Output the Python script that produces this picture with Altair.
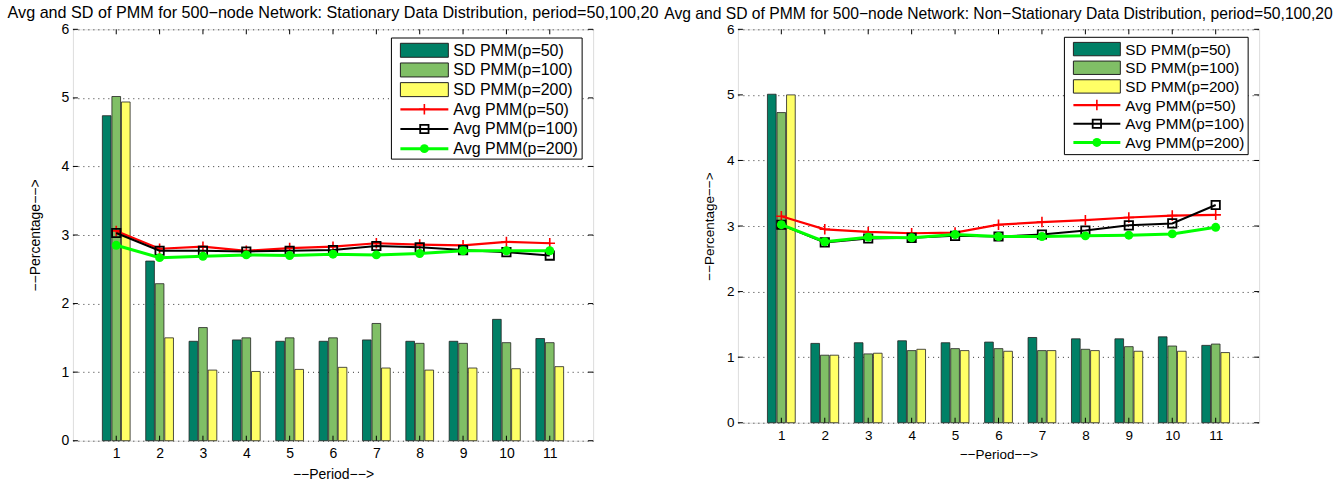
import altair as alt
import pandas as pd

# ---------------- data ----------------
periods = list(range(1, 12))
sd_names = ["SD PMM(p=50)", "SD PMM(p=100)", "SD PMM(p=200)"]
avg_names = ["Avg PMM(p=50)", "Avg PMM(p=100)", "Avg PMM(p=200)"]
x_ticks = list(range(1, 12))
y_ticks = list(range(0, 7))

left_title = "Avg and SD of PMM for 500\u2212node Network: Stationary Data Distribution, period=50,100,20"
right_title = "Avg and SD of PMM for 500\u2212node Network: Non\u2212Stationary Data Distribution, period=50,100,20"

left_sd50 = [4.74, 2.62, 1.45, 1.47, 1.45, 1.45, 1.47, 1.45, 1.45, 1.77, 1.49]
left_sd100 = [5.02, 2.29, 1.65, 1.50, 1.50, 1.50, 1.71, 1.42, 1.42, 1.43, 1.43]
left_sd200 = [4.94, 1.50, 1.03, 1.01, 1.04, 1.07, 1.06, 1.03, 1.06, 1.05, 1.08]
left_avg50 = [3.06, 2.80, 2.83, 2.77, 2.81, 2.83, 2.88, 2.86, 2.85, 2.90, 2.88]
left_avg100 = [3.03, 2.77, 2.77, 2.76, 2.77, 2.78, 2.84, 2.82, 2.78, 2.75, 2.70]
left_avg200 = [2.85, 2.67, 2.69, 2.71, 2.70, 2.72, 2.71, 2.73, 2.77, 2.77, 2.77]

right_sd50 = [5.01, 1.21, 1.22, 1.25, 1.22, 1.23, 1.30, 1.28, 1.28, 1.31, 1.18]
right_sd100 = [4.73, 1.03, 1.05, 1.10, 1.13, 1.13, 1.10, 1.12, 1.16, 1.17, 1.20]
right_sd200 = [5.00, 1.03, 1.06, 1.12, 1.10, 1.09, 1.10, 1.10, 1.09, 1.09, 1.07]
right_avg50 = [3.15, 2.95, 2.91, 2.89, 2.90, 3.02, 3.06, 3.09, 3.13, 3.16, 3.17]
right_avg100 = [3.02, 2.75, 2.81, 2.82, 2.85, 2.84, 2.87, 2.93, 3.01, 3.04, 3.32]
right_avg200 = [3.02, 2.76, 2.83, 2.82, 2.87, 2.84, 2.84, 2.85, 2.86, 2.88, 2.98]

# ---------------- style ----------------
FONT = "Liberation Sans"
bar_colors = ["#008066", "#80BF66", "#FFFF66"]
line_colors = ["#FF0000", "#000000", "#00FF00"]
line_widths = [2.2, 2, 3]
bar_offsets = [-0.22, 0.0, 0.22]
BAR_HALF = 0.1
CROSS = "M-1,0L1,0M0,-1L0,1"
marker_specs = [
    dict(shape=CROSS, filled=False, size=110, strokeWidth=1.6),
    dict(shape="square", filled=False, size=70, strokeWidth=1.8),
    dict(shape="circle", filled=True, size=80, strokeWidth=0),
]


def make_panel(title, sds, avgs, W, H, fs_tick, fs_title, fs_leg, leg, xlab_y, ylab_x,
               title_y, corners):
    xs = alt.Scale(domain=[0, 12], nice=False, zero=False)
    ys = alt.Scale(domain=[0, 6], nice=False)
    xaxis = alt.Axis(values=x_ticks, grid=False, ticks=False, tickSize=0, domain=False,
                     labelFontSize=fs_tick, labelPadding=6, labelFont=FONT, labelColor="black",
                     title="\u2212\u2212Period\u2212\u2212>", titleFont=FONT, titleFontSize=fs_tick,
                     titleFontWeight="normal", titleColor="black", titleY=xlab_y,
                     titleBaseline="middle")
    yaxis = alt.Axis(values=y_ticks, grid=True, gridDash=[1, 4], gridColor="#333", gridWidth=1,
                     ticks=False, tickSize=0, domain=False,
                     labelFontSize=fs_tick, labelPadding=4, labelFont=FONT, labelColor="black",
                     title="\u2212\u2212Percentage\u2212\u2212>", titleFont=FONT, titleFontSize=fs_tick,
                     titleFontWeight="normal", titleColor="black", titleX=ylab_x, titleY=H / 2,
                     titleBaseline="middle", titleAlign="center", titleAngle=270)

    rows = []
    for k, (name, vals) in enumerate(zip(sd_names, sds)):
        for p, v in zip(periods, vals):
            rows.append({"period": p, "series": name, "value": v, "off": bar_offsets[k]})
    bar_df = pd.DataFrame(rows)

    bars = alt.Chart(bar_df).transform_calculate(
        x0=f"datum.period + datum.off - {BAR_HALF}",
        x1=f"datum.period + datum.off + {BAR_HALF}",
    ).mark_rect(stroke="#222", strokeWidth=0.8).encode(
        x=alt.X("x0:Q", scale=xs, axis=xaxis),
        x2="x1:Q",
        y=alt.Y("value:Q", scale=ys, axis=yaxis),
        y2=alt.datum(0),
        fill=alt.Fill("series:N", scale=alt.Scale(domain=sd_names, range=bar_colors), legend=None),
    )

    layers = [bars]
    for k, (name, vals) in enumerate(zip(avg_names, avgs)):
        df = pd.DataFrame({"period": periods, "value": vals})
        base = alt.Chart(df).encode(
            x=alt.X("period:Q", scale=xs, axis=xaxis),
            y=alt.Y("value:Q", scale=ys, axis=yaxis),
        )
        layers.append(base.mark_line(color=line_colors[k], strokeWidth=line_widths[k]))
        ms = marker_specs[k]
        if ms["filled"]:
            pt = base.mark_point(shape=ms["shape"], filled=True, fill=line_colors[k],
                                 size=ms["size"], opacity=1, strokeWidth=0)
        else:
            pt = base.mark_point(shape=ms["shape"], filled=False, stroke=line_colors[k],
                                 size=ms["size"], opacity=1, strokeWidth=ms["strokeWidth"])
        layers.append(pt)

    # inward tick marks (MATLAB style) on all four sides
    xt = pd.DataFrame({"t": x_ticks})
    yt = pd.DataFrame({"t": y_ticks})
    tl = 5
    layers.append(alt.Chart(xt).mark_rule(color="black", strokeWidth=1).encode(
        x=alt.X("t:Q", scale=xs, axis=xaxis), y=alt.value(H), y2=alt.value(H - tl)))
    layers.append(alt.Chart(xt).mark_rule(color="black", strokeWidth=1).encode(
        x=alt.X("t:Q", scale=xs, axis=xaxis), y=alt.value(0), y2=alt.value(tl)))
    layers.append(alt.Chart(yt).mark_rule(color="black", strokeWidth=1).encode(
        y=alt.Y("t:Q", scale=ys, axis=yaxis), x=alt.value(0), x2=alt.value(tl)))
    layers.append(alt.Chart(yt).mark_rule(color="black", strokeWidth=1).encode(
        y=alt.Y("t:Q", scale=ys, axis=yaxis), x=alt.value(W - tl), x2=alt.value(W)))

    one = pd.DataFrame({"k": [0]})
    # invisible corner anchors fixing the page extent
    for (cx, cy) in corners:
        layers.append(alt.Chart(one).mark_rect(fill="white", opacity=0).encode(
            x=alt.value(cx), x2=alt.value(cx + 1), y=alt.value(cy), y2=alt.value(cy + 1)))

    # panel title
    layers.append(alt.Chart(pd.DataFrame({"label": [title]})).mark_text(
        align="center", baseline="middle", font=FONT, fontSize=fs_title, color="black").encode(
        x=alt.value(W / 2), y=alt.value(title_y), text="label:N"))

    # legend box
    layers.append(alt.Chart(one).mark_rect(fill="white", stroke="black", strokeWidth=1).encode(
        x=alt.value(leg["bx0"]), x2=alt.value(leg["bx1"]),
        y=alt.value(leg["by0"]), y2=alt.value(leg["by1"])))
    all_names = sd_names + avg_names
    for i, name in enumerate(all_names):
        yc = leg["y0"] + i * leg["dy"]
        if i < 3:
            layers.append(alt.Chart(one).mark_rect(fill=bar_colors[i], stroke="#222", strokeWidth=1).encode(
                x=alt.value(leg["sx0"]), x2=alt.value(leg["sx1"]),
                y=alt.value(yc - leg["sh"]), y2=alt.value(yc + leg["sh"])))
        else:
            k = i - 3
            layers.append(alt.Chart(one).mark_rule(color=line_colors[k], strokeWidth=line_widths[k]).encode(
                x=alt.value(leg["sx0"]), x2=alt.value(leg["sx1"]), y=alt.value(yc)))
            ms = marker_specs[k]
            mx = (leg["sx0"] + leg["sx1"]) / 2
            if ms["filled"]:
                mk = alt.Chart(one).mark_point(shape=ms["shape"], filled=True, fill=line_colors[k],
                                               size=ms["size"], opacity=1, strokeWidth=0)
            else:
                mk = alt.Chart(one).mark_point(shape=ms["shape"], filled=False, stroke=line_colors[k],
                                               size=ms["size"], opacity=1, strokeWidth=ms["strokeWidth"])
            layers.append(mk.encode(x=alt.value(mx), y=alt.value(yc)))
        layers.append(alt.Chart(pd.DataFrame({"label": [name]})).mark_text(
            align="left", baseline="middle", font=FONT, fontSize=fs_leg, color="black").encode(
            x=alt.value(leg["tx"]), y=alt.value(yc + 0.5), text="label:N"))

    return alt.layer(*layers).properties(width=W, height=H)


left_leg = dict(bx0=319, bx1=510, by0=8.7, by1=130, y0=21, dy=19.7,
                sx0=328, sx1=376, sh=7, tx=381)
right_leg = dict(bx0=327, bx1=511, by0=8, by1=125.5, y0=19.8, dy=18.7,
                 sx0=336, sx1=383, sh=6.7, tx=388)

left = make_panel(left_title,
                  [left_sd50, left_sd100, left_sd200],
                  [left_avg50, left_avg100, left_avg200],
                  521, 412, 14, 16.2, 16, left_leg, 34, -37, -16,
                  corners=[(-72, -28), (-72, 454)])
right = make_panel(right_title,
                   [right_sd50, right_sd100, right_sd200],
                   [right_avg50, right_avg100, right_avg200],
                   522, 394, 13.5, 15.7, 15.3, right_leg, 32, -28, -15.5,
                   corners=[(604, -27.5)])

chart = alt.hconcat(left, right, spacing=145, bounds="flush").properties(
    autosize=alt.AutoSizeParams(type="pad"),
    padding=0,
).configure_view(stroke="black", strokeWidth=1.2).configure(font=FONT, background="white")

chart.save("out.html", embed_options={"renderer": "svg", "actions": False})
